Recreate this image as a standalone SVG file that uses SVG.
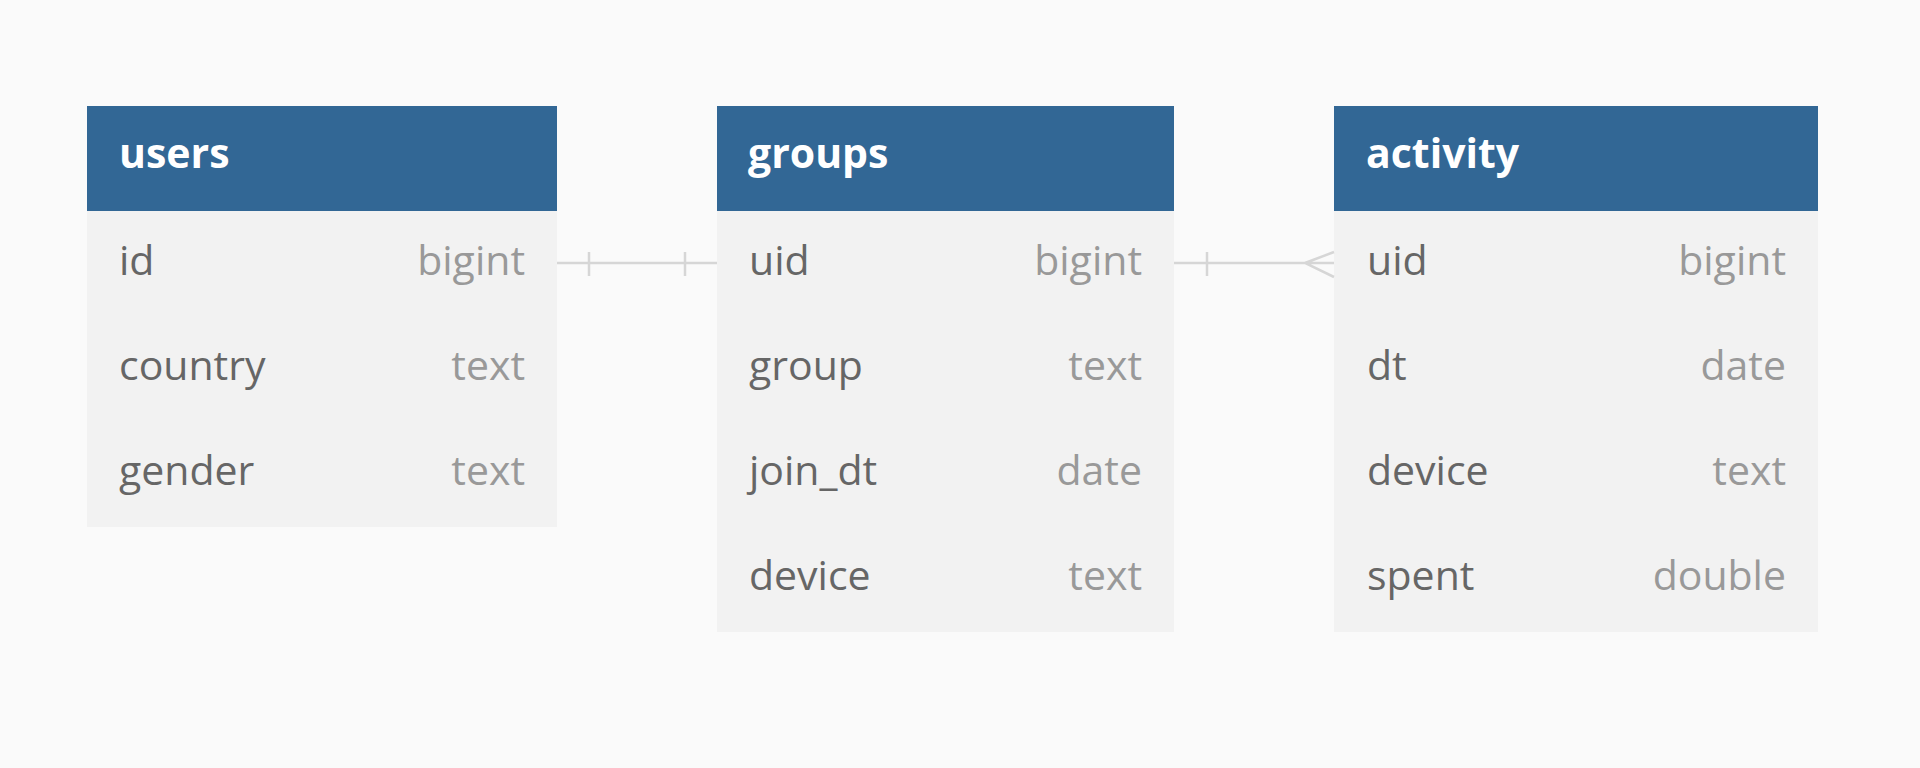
<svg xmlns="http://www.w3.org/2000/svg" width="1920" height="768" viewBox="0 0 1920 768">
<style>
.bg{fill:#fafafa}
.hdr{fill:#326795}
.body{fill:#f2f2f2}
.title{font-family:"Open Sans","Liberation Sans",sans-serif;font-weight:bold;font-size:41px;fill:#ffffff}
.col{font-family:"Open Sans","Liberation Sans",sans-serif;font-size:41px;fill:#666666}
.typ{font-family:"Open Sans","Liberation Sans",sans-serif;font-size:41px;fill:#999999;text-anchor:end}
.conn{stroke:#d6d6d6;stroke-width:2.5;fill:none}
</style>
<rect class="bg" x="0" y="0" width="1920" height="768"/>
<g id="users">
<rect class="body" x="87" y="211" width="470" height="316"/>
<rect class="hdr" x="87" y="106" width="470" height="105"/>
<text class="title" x="119" y="168">users</text>
<text class="col" x="119" y="275">id</text><text class="typ" x="525" y="275">bigint</text>
<text class="col" x="119" y="380">country</text><text class="typ" x="525" y="380">text</text>
<text class="col" x="119" y="485">gender</text><text class="typ" x="525" y="485">text</text>
</g>
<g id="groups">
<rect class="body" x="717" y="211" width="457" height="421"/>
<rect class="hdr" x="717" y="106" width="457" height="105"/>
<text class="title" x="748" y="168">groups</text>
<text class="col" x="749" y="275">uid</text><text class="typ" x="1142" y="275">bigint</text>
<text class="col" x="749" y="380">group</text><text class="typ" x="1142" y="380">text</text>
<text class="col" x="749" y="485">join_dt</text><text class="typ" x="1142" y="485">date</text>
<text class="col" x="749" y="590">device</text><text class="typ" x="1142" y="590">text</text>
</g>
<g id="activity">
<rect class="body" x="1334" y="211" width="484" height="421"/>
<rect class="hdr" x="1334" y="106" width="484" height="105"/>
<text class="title" x="1366" y="168">activity</text>
<text class="col" x="1367" y="275">uid</text><text class="typ" x="1786" y="275">bigint</text>
<text class="col" x="1367" y="380">dt</text><text class="typ" x="1786" y="380">date</text>
<text class="col" x="1367" y="485">device</text><text class="typ" x="1786" y="485">text</text>
<text class="col" x="1367" y="590">spent</text><text class="typ" x="1786" y="590">double</text>
</g>
<g id="connectors">
<path class="conn" d="M557 263 H717 M589 252 V276 M685 252 V276"/>
<path class="conn" d="M1174 263 H1334 M1207 252 V276 M1334 252 L1305 263 L1334 277"/>
</g>
</svg>
